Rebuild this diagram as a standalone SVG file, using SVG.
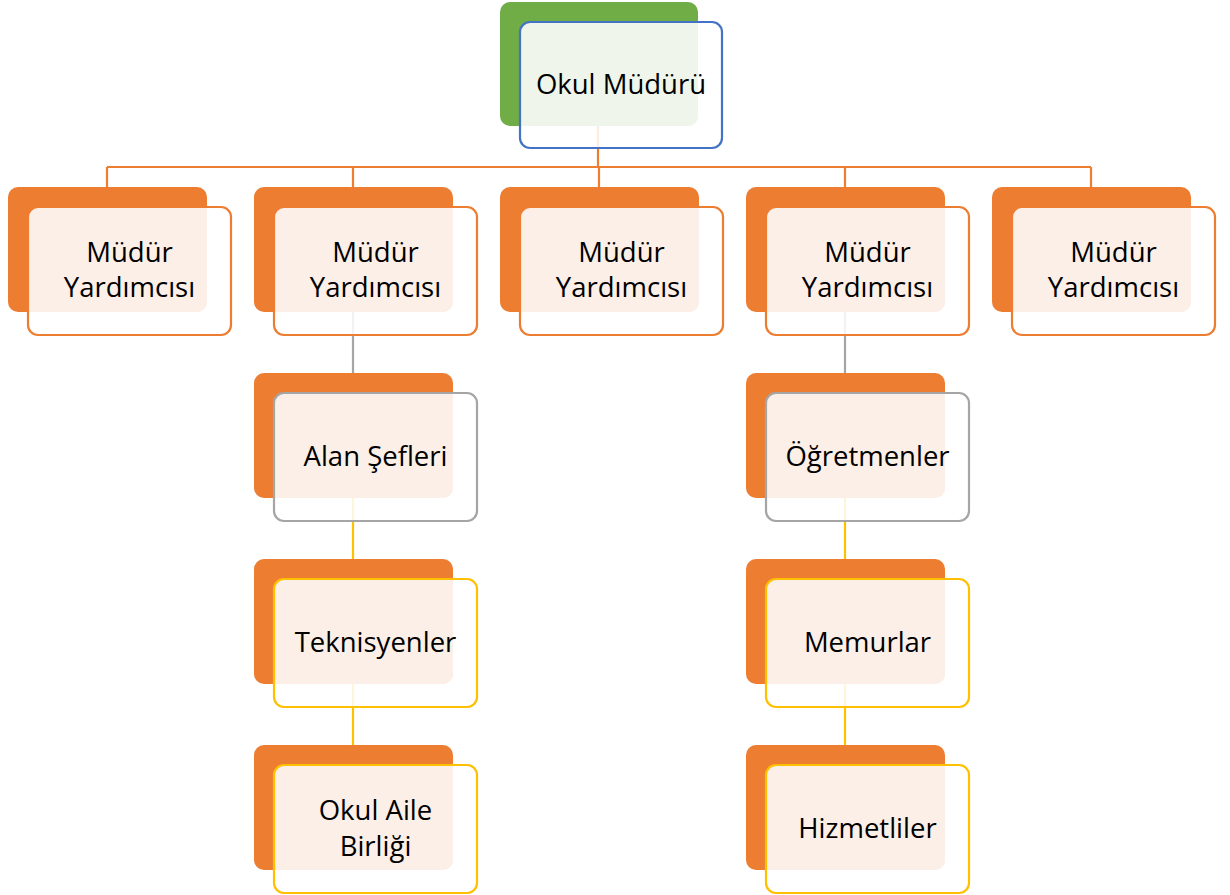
<svg xmlns="http://www.w3.org/2000/svg" width="1230" height="895" viewBox="0 0 1230 895">
<style>
.bk{fill:#ED7D31}
.bg{fill:#70AD47}
.lt{fill:#FCEFE7}
.ltg{fill:#EFF5EA}
.fw{fill:#FFFFFF;fill-opacity:0.85}
.so{fill:none;stroke:#ED7D31;stroke-width:2.2}
.sb{fill:none;stroke:#4472C4;stroke-width:2.2}
.sg{fill:none;stroke:#A5A5A5;stroke-width:2.2}
.sy{fill:none;stroke:#FFC000;stroke-width:2.2}
.t{font-family:"Open Sans","Noto Sans",sans-serif;font-size:27.5px;fill:#000;text-anchor:middle}
</style>
<defs>
<clipPath id="cf"><rect x="20" y="20" width="203" height="128" rx="10"/></clipPath>
<clipPath id="cf0"><rect x="520" y="22" width="202" height="126" rx="10"/></clipPath>
</defs>
<g id="connectors">
<path class="so" d="M598 126V167M107 167H1091M107 167V187M353 167V187M599 167V187M845 167V187M1091 167V187"/>
<path class="sg" d="M353 312V373M845 312V373"/>
<path class="sy" d="M353 498V559M353 684V745M845 498V559M845 684V745"/>
</g>
<g id="n0">
<rect class="bg" x="500" y="2" width="198" height="124" rx="10"/>
<rect class="fw" x="520" y="22" width="202" height="126" rx="10"/>
<rect class="ltg" x="500" y="2" width="198" height="124" rx="10" clip-path="url(#cf0)"/>
<rect class="sb" x="520" y="22" width="202" height="126" rx="10"/>
<text class="t" x="621" y="94">Okul Müdürü</text>
</g>
<g id="nodes">
<g id="n1" transform="translate(8,187)">
<rect class="bk" width="199" height="125" rx="10"/>
<rect class="fw" x="20" y="20" width="203" height="128" rx="10"/>
<rect class="lt" width="199" height="125" rx="10" clip-path="url(#cf)"/>
<rect class="so" x="20" y="20" width="203" height="128" rx="10"/>
<text class="t" x="121.5" y="75">Müdür</text>
<text class="t" x="121.5" y="110">Yardımcısı</text>
</g>
<g id="n2" transform="translate(254,187)">
<rect class="bk" width="199" height="125" rx="10"/>
<rect class="fw" x="20" y="20" width="203" height="128" rx="10"/>
<rect class="lt" width="199" height="125" rx="10" clip-path="url(#cf)"/>
<rect class="so" x="20" y="20" width="203" height="128" rx="10"/>
<text class="t" x="121.5" y="75">Müdür</text>
<text class="t" x="121.5" y="110">Yardımcısı</text>
</g>
<g id="n3" transform="translate(500,187)">
<rect class="bk" width="199" height="125" rx="10"/>
<rect class="fw" x="20" y="20" width="203" height="128" rx="10"/>
<rect class="lt" width="199" height="125" rx="10" clip-path="url(#cf)"/>
<rect class="so" x="20" y="20" width="203" height="128" rx="10"/>
<text class="t" x="121.5" y="75">Müdür</text>
<text class="t" x="121.5" y="110">Yardımcısı</text>
</g>
<g id="n4" transform="translate(746,187)">
<rect class="bk" width="199" height="125" rx="10"/>
<rect class="fw" x="20" y="20" width="203" height="128" rx="10"/>
<rect class="lt" width="199" height="125" rx="10" clip-path="url(#cf)"/>
<rect class="so" x="20" y="20" width="203" height="128" rx="10"/>
<text class="t" x="121.5" y="75">Müdür</text>
<text class="t" x="121.5" y="110">Yardımcısı</text>
</g>
<g id="n5" transform="translate(992,187)">
<rect class="bk" width="199" height="125" rx="10"/>
<rect class="fw" x="20" y="20" width="203" height="128" rx="10"/>
<rect class="lt" width="199" height="125" rx="10" clip-path="url(#cf)"/>
<rect class="so" x="20" y="20" width="203" height="128" rx="10"/>
<text class="t" x="121.5" y="75">Müdür</text>
<text class="t" x="121.5" y="110">Yardımcısı</text>
</g>
<g id="n6" transform="translate(254,373)">
<rect class="bk" width="199" height="125" rx="10"/>
<rect class="fw" x="20" y="20" width="203" height="128" rx="10"/>
<rect class="lt" width="199" height="125" rx="10" clip-path="url(#cf)"/>
<rect class="sg" x="20" y="20" width="203" height="128" rx="10"/>
<text class="t" x="121.5" y="93">Alan Şefleri</text>
</g>
<g id="n7" transform="translate(746,373)">
<rect class="bk" width="199" height="125" rx="10"/>
<rect class="fw" x="20" y="20" width="203" height="128" rx="10"/>
<rect class="lt" width="199" height="125" rx="10" clip-path="url(#cf)"/>
<rect class="sg" x="20" y="20" width="203" height="128" rx="10"/>
<text class="t" x="121.5" y="93">Öğretmenler</text>
</g>
<g id="n8" transform="translate(254,559)">
<rect class="bk" width="199" height="125" rx="10"/>
<rect class="fw" x="20" y="20" width="203" height="128" rx="10"/>
<rect class="lt" width="199" height="125" rx="10" clip-path="url(#cf)"/>
<rect class="sy" x="20" y="20" width="203" height="128" rx="10"/>
<text class="t" x="121.5" y="93">Teknisyenler</text>
</g>
<g id="n9" transform="translate(746,559)">
<rect class="bk" width="199" height="125" rx="10"/>
<rect class="fw" x="20" y="20" width="203" height="128" rx="10"/>
<rect class="lt" width="199" height="125" rx="10" clip-path="url(#cf)"/>
<rect class="sy" x="20" y="20" width="203" height="128" rx="10"/>
<text class="t" x="121.5" y="93">Memurlar</text>
</g>
<g id="n10" transform="translate(254,745)">
<rect class="bk" width="199" height="125" rx="10"/>
<rect class="fw" x="20" y="20" width="203" height="128" rx="10"/>
<rect class="lt" width="199" height="125" rx="10" clip-path="url(#cf)"/>
<rect class="sy" x="20" y="20" width="203" height="128" rx="10"/>
<text class="t" x="121.5" y="75">Okul Aile</text>
<text class="t" x="121.5" y="111">Birliği</text>
</g>
<g id="n11" transform="translate(746,745)">
<rect class="bk" width="199" height="125" rx="10"/>
<rect class="fw" x="20" y="20" width="203" height="128" rx="10"/>
<rect class="lt" width="199" height="125" rx="10" clip-path="url(#cf)"/>
<rect class="sy" x="20" y="20" width="203" height="128" rx="10"/>
<text class="t" x="121.5" y="93">Hizmetliler</text>
</g>
</g>
</svg>
